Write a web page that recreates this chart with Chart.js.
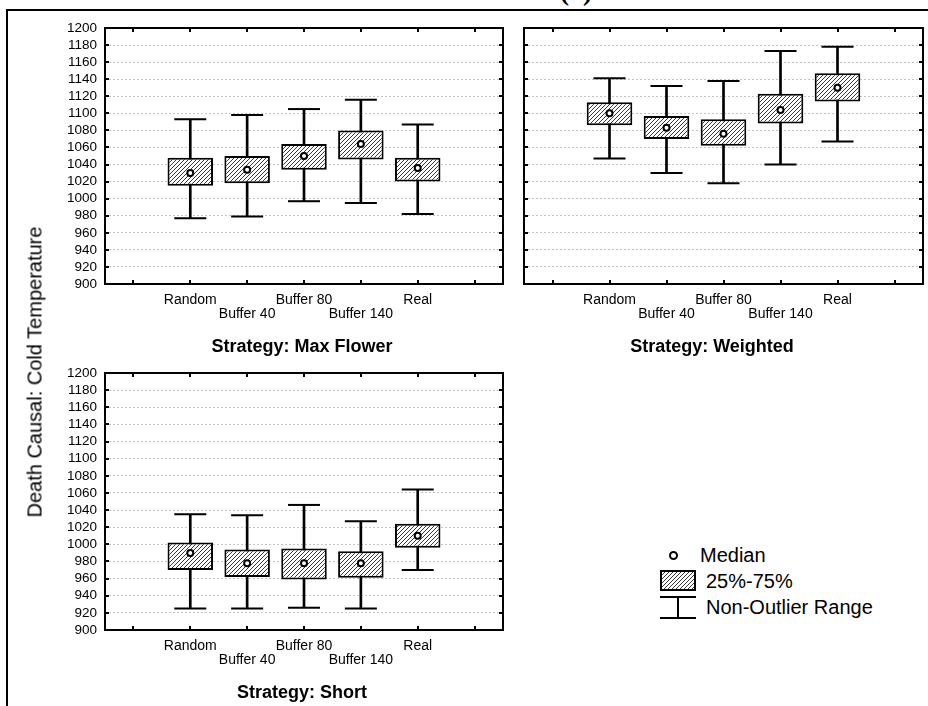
<!DOCTYPE html>
<html>
<head>
<meta charset="utf-8">
<script src="https://cdn.jsdelivr.net/npm/chart.js@4.4.1/dist/chart.umd.min.js"></script>
<style>
html,body{margin:0;padding:0;background:#fff;}
body{width:928px;height:706px;position:relative;overflow:hidden;font-family:"Liberation Sans",Arial,sans-serif;color:#000;}
canvas{position:absolute;}
.t{position:absolute;white-space:nowrap;transform:translate(-50%,-50%);line-height:normal;}
.l{position:absolute;white-space:nowrap;transform:translate(0,-50%);line-height:normal;font-size:20px;}
.b{position:absolute;background:#000;}
.title{font-weight:bold;font-size:18px;}
</style>
</head>
<body>
<div class="b" style="left:6px;top:9px;width:922px;height:2px;"></div>
<div class="b" style="left:6px;top:9px;width:2px;height:697px;"></div>
<div class="t" style="left:576px;top:-9px;font:bold 28px 'Liberation Serif',serif;">(a)</div>

<canvas id="c1" width="515" height="340" style="left:0;top:0;"></canvas>
<canvas id="c2" width="418" height="340" style="left:510px;top:0;"></canvas>
<canvas id="c3" width="515" height="346" style="left:0;top:340px;"></canvas>

<div class="t" style="left:35px;top:372px;font-size:20px;transform:translate(-50%,-50%) rotate(-90deg);">Death Causal: Cold Temperature</div>
<div class="t title" style="left:302px;top:346px;">Strategy: Max Flower</div>
<div class="t title" style="left:712px;top:346px;">Strategy: Weighted</div>
<div class="t title" style="left:302px;top:692px;">Strategy: Short</div>

<!-- legend -->
<div style="position:absolute;left:669px;top:551px;width:9px;height:9px;box-sizing:border-box;border:2px solid #000;border-radius:50%;background:#fff;"></div>
<div class="l" style="left:700px;top:555px;">Median</div>
<div style="position:absolute;left:660px;top:570px;width:36px;height:21px;box-sizing:border-box;border:2px solid #000;background:repeating-linear-gradient(135deg,#fff 0 1.8px,#3a3a3a 1.8px 2.8px);"></div>
<div class="l" style="left:706px;top:581px;">25%-75%</div>
<div class="b" style="left:660px;top:596px;width:36px;height:2px;"></div>
<div class="b" style="left:677px;top:596px;width:2px;height:23px;"></div>
<div class="b" style="left:660px;top:617px;width:36px;height:2px;"></div>
<div class="l" style="left:706px;top:607px;">Non-Outlier Range</div>

<script>
// ---- data ----
const categories = ["Random", "Buffer 40", "Buffer 80", "Buffer 140", "Real"];
const yMin = 900, yMax = 1200, yStep = 20;

// Strategy: Max Flower
const maxFlowerMin    = [977, 979, 997, 995, 982];
const maxFlowerQ1     = [1015, 1018, 1034, 1046, 1020];
const maxFlowerMedian = [1030, 1034, 1050, 1064, 1036];
const maxFlowerQ3     = [1048, 1050, 1064, 1080, 1048];
const maxFlowerMax    = [1093, 1098, 1105, 1116, 1087];

// Strategy: Weighted
const weightedMin    = [1047, 1030, 1018, 1040, 1067];
const weightedQ1     = [1086, 1070, 1062, 1088, 1114];
const weightedMedian = [1100, 1083, 1076, 1104, 1130];
const weightedQ3     = [1113, 1097, 1093, 1123, 1147];
const weightedMax    = [1141, 1132, 1138, 1173, 1178];

// Strategy: Short
const shortMin    = [925, 925, 926, 925, 970];
const shortQ1     = [970, 962, 959, 961, 996];
const shortMedian = [990, 978, 978, 978, 1010];
const shortQ3     = [1002, 994, 995, 992, 1024];
const shortMax    = [1035, 1034, 1046, 1027, 1064];

// ---- drawing ----
const axisLabels = ['', ...categories, ''];
const pad = v => [null, ...v, null];

const framePlugin = {
  id: 'frame',
  afterDatasetsDraw(chart) {
    const {ctx, chartArea: a, scales: {x, y}} = chart;
    ctx.save();
    ctx.strokeStyle = '#000';
    ctx.lineWidth = 2;
    ctx.strokeRect(a.left, a.top, a.right - a.left, a.bottom - a.top);
    ctx.beginPath();
    y.ticks.forEach(t => {
      const py = Math.round(y.getPixelForValue(t.value));
      ctx.moveTo(a.left, py); ctx.lineTo(a.left + 4, py);
      ctx.moveTo(a.right - 4, py); ctx.lineTo(a.right, py);
    });
    x.ticks.forEach((t, i) => {
      const px = Math.round(x.getPixelForTick(i));
      ctx.moveTo(px, a.top); ctx.lineTo(px, a.top + 4);
      ctx.moveTo(px, a.bottom - 4); ctx.lineTo(px, a.bottom);
    });
    ctx.stroke();
    ctx.restore();
  }
};

function hatch(ctx) {
  const c = document.createElement('canvas');
  c.width = 4; c.height = 4;
  const g = c.getContext('2d');
  g.fillStyle = '#fff'; g.fillRect(0, 0, 4, 4);
  g.strokeStyle = '#3a3a3a'; g.lineWidth = 1;
  g.beginPath();
  g.moveTo(0, 4); g.lineTo(4, 0);
  g.moveTo(-1, 1); g.lineTo(1, -1);
  g.moveTo(3, 5); g.lineTo(5, 3);
  g.stroke();
  return ctx.createPattern(c, 'repeat');
}

function panel(id, mn, q1, med, q3, mx, cfg) {
  const ctx = document.getElementById(id).getContext('2d');
  const pattern = hatch(ctx);
  return new Chart(ctx, {
    type: 'bar',
    data: {
      labels: axisLabels,
      datasets: [
        {type: 'line', label: 'Median', data: pad(med), showLine: false,
         pointStyle: 'circle', pointRadius: 3, pointBorderWidth: 2,
         pointBackgroundColor: '#fff', pointBorderColor: '#000', order: 0},
        {label: '25%-75%', data: pad(q1.map((v, i) => [v, q3[i]])),
         backgroundColor: pattern, borderColor: '#000', borderWidth: 2, borderSkipped: false,
         grouped: false, barPercentage: 0.8, categoryPercentage: 1, order: 1},
        {type: 'line', label: 'Max', data: pad(mx), showLine: false,
         pointStyle: 'line', pointRadius: 16, pointBorderWidth: 2, pointBorderColor: '#000', order: 2},
        {type: 'line', label: 'Min', data: pad(mn), showLine: false,
         pointStyle: 'line', pointRadius: 16, pointBorderWidth: 2, pointBorderColor: '#000', order: 2},
        {label: 'Non-Outlier Range', data: pad(mn.map((v, i) => [v, mx[i]])),
         backgroundColor: '#000', borderWidth: 0, barThickness: 2, grouped: false, order: 3}
      ]
    },
    options: {
      responsive: false,
      animation: false,
      events: [],
      layout: {padding: cfg.padding, autoPadding: false},
      plugins: {legend: {display: false}, tooltip: {enabled: false}, title: {display: false}},
      scales: {
        x: {
          type: 'category', offset: true,
          grid: {display: false, drawTicks: false},
          border: {display: false},
          ticks: {
            autoSkip: false, maxRotation: 0, minRotation: 0, padding: 9, color: '#000',
            font: {family: 'Liberation Sans', size: 14, lineHeight: 1},
            callback: function (v, i) {
              const l = axisLabels[i];
              if (!l) return '';
              return i % 2 === 1 ? [l, ''] : ['', l];
            }
          },
          afterFit: s => { s.height = cfg.xh; }
        },
        y: {
          min: yMin, max: yMax,
          ticks: {stepSize: yStep, display: cfg.showY, autoSkip: false, padding: 8, color: '#000',
                  font: {family: 'Liberation Sans', size: 13.5, lineHeight: 1},
                  callback: v => String(v)},
          grid: {color: '#c4c4c4', lineWidth: 1, drawTicks: false},
          border: {display: false, dash: [2, 2]},
          afterFit: s => { s.width = cfg.yw; }
        }
      }
    },
    plugins: [framePlugin]
  });
}

panel('c1', maxFlowerMin, maxFlowerQ1, maxFlowerMedian, maxFlowerQ3, maxFlowerMax,
  {padding: {left: 0, top: 28, right: 12, bottom: 0}, yw: 105, xh: 56, showY: true});
panel('c2', weightedMin, weightedQ1, weightedMedian, weightedQ3, weightedMax,
  {padding: {left: 0, top: 28, right: 5, bottom: 0}, yw: 14, xh: 56, showY: false});
panel('c3', shortMin, shortQ1, shortMedian, shortQ3, shortMax,
  {padding: {left: 0, top: 33, right: 12, bottom: 0}, yw: 105, xh: 56, showY: true});
</script>
</body>
</html>
